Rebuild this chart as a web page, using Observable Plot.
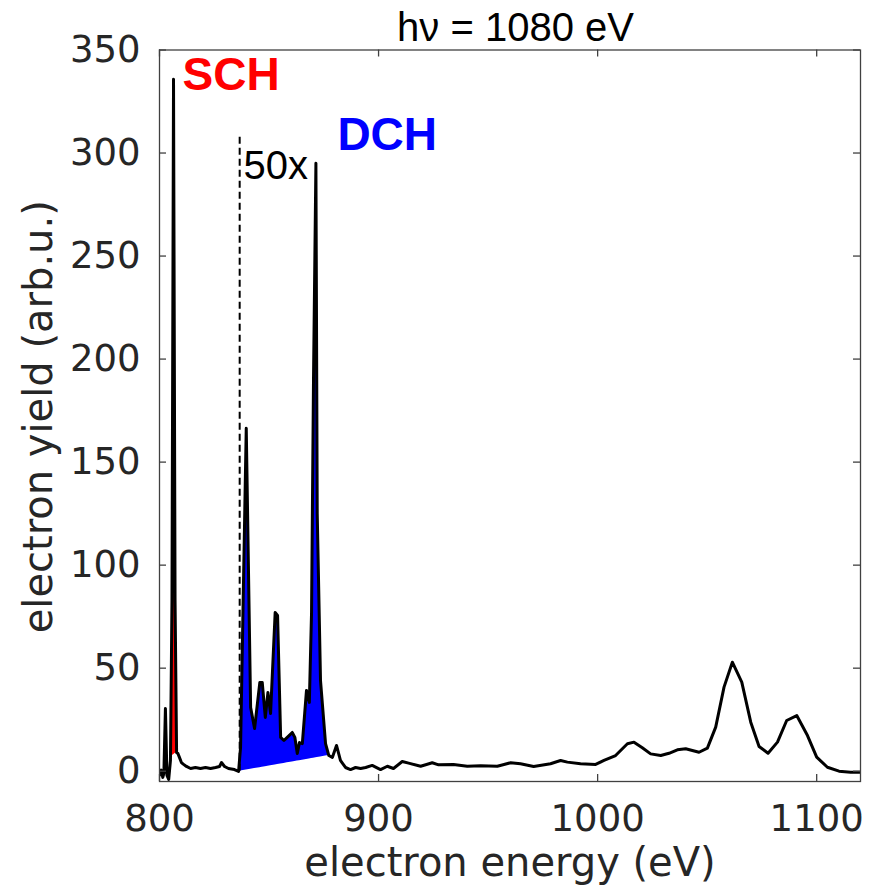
<!DOCTYPE html>
<html><head><meta charset="utf-8">
<script src="https://cdn.jsdelivr.net/npm/d3@7"></script>
<script src="https://cdn.jsdelivr.net/npm/@observablehq/plot@0.6"></script>
<style>body{margin:0;background:#fff}#chart{width:870px;height:891px}</style>
</head><body><div id="chart"></div>
<script>
// electron energy (eV)
const energy = [800.0,800.8,801.5,802.0,802.7,803.4,804.2,805.0,805.7,806.4,807.1,807.8,808.4,809.1,810.0,811.0,812.3,814.2,816.4,818.7,821.0,823.3,825.6,827.4,828.3,829.7,831.5,834.2,
836.1,837.0,839.6,841.6,843.4,845.8,846.9,848.3,849.5,850.7,852.8,853.9,855.3,856.8,858.3,860.6,861.8,862.9,863.9,865.2,867.1,868.4,869.4,870.3,871.4,872.0,873.5,875.8,877.3,
878.9,880.8,882.6,884.9,887.2,889.5,891.8,894.1,897.1,900.9,904.0,906.8,910.8,913.7,919.2,924.5,927.4,934.2,940.5,946.6,954.2,960.3,964.8,970.8,978.5,983.1,986.2,992.2,999.1,
1002.9,1008.2,1013.6,1016.6,1020.4,1024.2,1028.8,1032.6,1036.4,1040.2,1046.3,1050.1,1053.9,1057.7,1061.5,1065.8,1069.9,1073.7,1077.8,1082.1,1086.3,1090.9,1095.8,1100.0,1104.9,1110.2,1115.5,1120];
// electron yield (arb.u.)
const yieldArb = [-2,0.5,-3,-1,30.4,-2,-4,5.2,82.9,335.8,82.9,9.1,8.6,6.7,4.2,3.3,2.3,1.3,1.8,1.3,1.8,1.3,1.8,2.3,4.2,2.3,1.3,0.8,
-0.1,11.5,166.4,30.9,20.7,43.1,43.1,26.1,38.2,28.0,77.0,75.6,16.4,14.9,16.4,18.8,16.4,8.6,13.9,13.4,39.2,33.4,76.6,190,295.0,125,44,13.4,7.6,
6.7,12.5,5.2,1.8,0.8,1.8,1.3,1.8,2.8,0.8,2.4,1.3,4.7,3.9,2.4,4.1,3.1,3.3,2.4,2.6,2.4,4.1,3.6,2.3,3.6,5.2,4.4,3.6,3.3,
5.2,7.6,13.3,14.1,11.4,8.4,7.6,8.7,10.4,10.9,9.2,11.2,21.4,40.8,52.9,43.2,23.8,12.0,8.7,14.1,24.6,27.0,17.3,6.8,1.9,0,-0.5,-0.5];

// shaded regions: [x start, baseline start, x end, baseline end]
const schRegion = [805.02, 7.0, 807.8, 9.1];
const dchRegion = [836.1, -0.1, 877.3, 7.6];
const dashLine = {x: 836.6, top: 308};

const xTicks = [800, 900, 1000, 1100];
const yTicks = [0, 50, 100, 150, 200, 250, 300, 350];

const title = "hν = 1080 eV";
const xLabel = "electron energy (eV)";
const yLabel = "electron yield (arb.u.)";

const curve = energy.map((x, i) => ({x, y: yieldArb[i]}));
function interp(x) {
  for (let i = 0; i < energy.length - 1; i++) {
    if (x >= energy[i] && x <= energy[i + 1]) {
      const t = (x - energy[i]) / (energy[i + 1] - energy[i]);
      return yieldArb[i] + t * (yieldArb[i + 1] - yieldArb[i]);
    }
  }
  return 0;
}
function band([x0, b0, x1, b1]) {
  const xs = [x0, ...energy.filter(e => e > x0 && e < x1), x1];
  return xs.map(x => ({x, y1: b0 + (b1 - b0) * (x - x0) / (x1 - x0), y2: interp(x)}));
}

const W = 870, H = 891, mL = 159, mR = 10, mT = 49.5, mB = 110;
const frameW = W - mL - mR, frameH = H - mT - mB, tk = 7;
const axisColor = "#404040";
const tickFont = "DejaVu Sans";
const sans = "Liberation Sans, Arial, sans-serif";

const chart = Plot.plot({
  width: W, height: H,
  marginLeft: mL, marginRight: mR, marginTop: mT, marginBottom: mB,
  style: {color: "#262626", background: "white", fontFamily: tickFont},
  x: {domain: [800, 1120]},
  y: {domain: [-5, 350]},
  marks: [
    Plot.areaY(band(schRegion), {x: "x", y1: "y1", y2: "y2", fill: "#ff0000"}),
    Plot.areaY(band(dchRegion), {x: "x", y1: "y1", y2: "y2", fill: "#0000ff"}),
    Plot.ruleX([dashLine], {x: "x", y1: 0, y2: "top", stroke: "black", strokeWidth: 2, strokeDasharray: "7,4"}),
    Plot.line(curve, {x: "x", y: "y", stroke: "black", strokeWidth: 3, strokeLinejoin: "round", clip: true}),
    Plot.frame({stroke: axisColor, strokeWidth: 1.3}),
    Plot.tickX(xTicks, {x: d => d, insetTop: frameH - tk, stroke: axisColor, strokeWidth: 1.3}),
    Plot.tickX(xTicks, {x: d => d, insetBottom: frameH - tk, stroke: axisColor, strokeWidth: 1.3}),
    Plot.tickY(yTicks, {y: d => d, insetRight: frameW - tk, stroke: axisColor, strokeWidth: 1.3}),
    Plot.tickY(yTicks, {y: d => d, insetLeft: frameW - tk, stroke: axisColor, strokeWidth: 1.3}),
    Plot.axisX(xTicks, {tickSize: 0, tickPadding: 23, tickFormat: d => String(d), fontSize: 37, fontFamily: tickFont, label: null, fill: "#262626"}),
    Plot.axisY(yTicks, {tickSize: 0, tickPadding: 19, tickFormat: d => String(d), fontSize: 37, fontFamily: tickFont, label: null, fill: "#262626"}),
    Plot.text([xLabel], {frameAnchor: "bottom", dy: 82, textAnchor: "middle", lineAnchor: "middle", fontSize: 40, fontFamily: tickFont, fill: "#262626"}),
    Plot.text([yLabel], {frameAnchor: "left", dx: -120, dy: 1, rotate: -90, textAnchor: "middle", lineAnchor: "middle", fontSize: 40, fontFamily: tickFont, fill: "#262626"}),
    Plot.text([title], {frameAnchor: "top", dx: 5.5, dy: -22, lineAnchor: "middle", fontSize: 40, fontFamily: sans, fill: "black"}),
    Plot.text(["SCH"], {x: 810.5, y: 337.5, textAnchor: "start", lineAnchor: "middle", fontSize: 46, fontWeight: "bold", fontFamily: sans, fill: "#ff0000"}),
    Plot.text(["DCH"], {x: 881.2, y: 308.5, textAnchor: "start", lineAnchor: "middle", fontSize: 46, fontWeight: "bold", fontFamily: sans, fill: "#0000ff"}),
    Plot.text(["50x"], {x: 838.4, y: 293.7, textAnchor: "start", lineAnchor: "middle", fontSize: 40, fontFamily: sans, fill: "black"})
  ]
});
document.getElementById("chart").appendChild(chart);
</script></body></html>
